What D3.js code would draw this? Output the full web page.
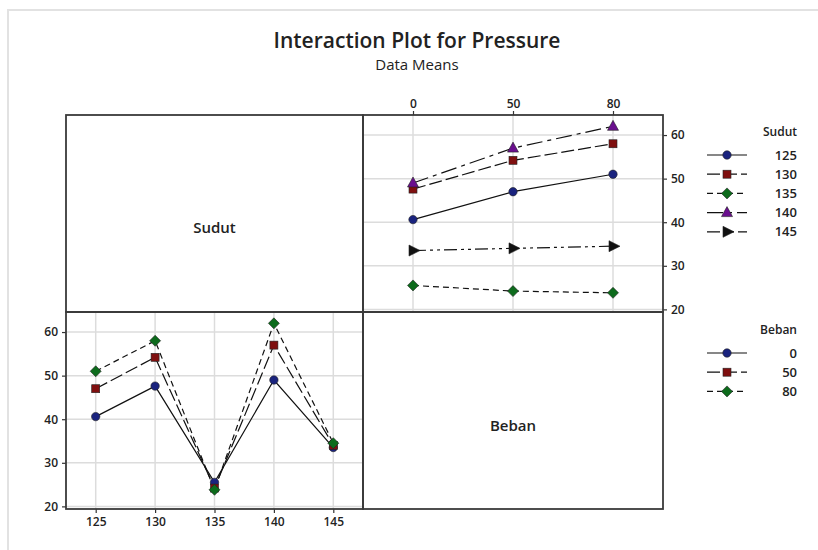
<!DOCTYPE html>
<html>
<head>
<meta charset="utf-8">
<script src="https://cdn.jsdelivr.net/npm/d3@7"></script>
<style>
  body { margin: 0; background: #fff; }
  text { font-family: "Open Sans", "Noto Sans", sans-serif; fill: #222; }
  .tick text { font-size: 12px; font-weight: 600; }
</style>
</head>
<body>
<svg id="chart" width="818" height="550"></svg>
<script>
// factor levels
const sudutLevels = [125, 130, 135, 140, 145];
const bebanLevels = [0, 50, 80];
const yTicks = [20, 30, 40, 50, 60];

// means for each Sudut level, across Beban 0, 50, 80
const sudut125 = [40.6, 47.0, 51.0];
const sudut130 = [47.6, 54.2, 58.0];
const sudut135 = [25.5, 24.2, 23.8];
const sudut140 = [49.0, 57.0, 62.0];
const sudut145 = [33.5, 34.0, 34.5];

const sudutSeries = [
  { name: "125", values: sudut125, shape: "circle", color: "#1a237e", dash: null },
  { name: "130", values: sudut130, shape: "square", color: "#7f0f0f", dash: "13,4" },
  { name: "135", values: sudut135, shape: "diamond", color: "#0d6b1c", dash: "6,4" },
  { name: "140", values: sudut140, shape: "triangle", color: "#6a0f8e", dash: "16,5,4,5" },
  { name: "145", values: sudut145, shape: "arrow", color: "#111", dash: "13,4,3,4,3,4" }
];

// same means, seen per Beban level across Sudut
const bebanSeries = bebanLevels.map((b, i) => ({
  name: String(b),
  values: sudutSeries.map(s => s.values[i]),
  shape: sudutSeries[i].shape,
  color: sudutSeries[i].color,
  dash: [null, "13,4", "6,4"][i]
}));

const svg = d3.select("#chart");

// outer frame of the screenshot
svg.append("path")
  .attr("d", "M8,552 L8,10 L820,10")
  .attr("fill", "none").attr("stroke", "#e2e2e2").attr("stroke-width", 2);

svg.append("text").attr("x", 417).attr("y", 48)
  .attr("text-anchor", "middle").style("font-size", "21px").style("font-weight", 600)
  .text("Interaction Plot for Pressure");
svg.append("text").attr("x", 417).attr("y", 70)
  .attr("text-anchor", "middle").style("font-size", "15px")
  .text("Data Means");

const pLeft = 66, midX = 363, pRight = 663;
const pTop = 115, midY = 312, pBottom = 509;

const yTop = d3.scaleLinear().domain([19.4, 64.6]).range([midY, pTop]);
const yBot = d3.scaleLinear().domain([19.4, 64.6]).range([pBottom, midY]);
const xBeban = d3.scalePoint().domain(bebanLevels).range([midX, pRight]).padding(0.5);
const xSudut = d3.scalePoint().domain(sudutLevels).range([pLeft, midX]).padding(0.5);

function marker(g, shape, color, x, y) {
  let el;
  if (shape === "circle") {
    el = g.append("circle").attr("cx", x).attr("cy", y).attr("r", 4.2);
  } else if (shape === "square") {
    el = g.append("rect").attr("x", x - 4).attr("y", y - 4).attr("width", 8).attr("height", 8);
  } else if (shape === "diamond") {
    el = g.append("path").attr("d", `M${x},${y - 5.5}L${x + 5.5},${y}L${x},${y + 5.5}L${x - 5.5},${y}Z`);
  } else if (shape === "triangle") {
    el = g.append("path").attr("d", `M${x},${y - 6}L${x + 5.5},${y + 4}L${x - 5.5},${y + 4}Z`);
  } else {
    el = g.append("path").attr("d", `M${x + 7},${y}L${x - 4},${y - 5.5}L${x - 4},${y + 5.5}Z`);
  }
  el.attr("fill", color).attr("stroke", "#222").attr("stroke-width", 0.6);
}

function grid(g, xs, ys, x0, x1, y0, y1) {
  g.selectAll(".gx").data(xs).enter().append("line")
    .attr("x1", d => d).attr("x2", d => d).attr("y1", y0).attr("y2", y1)
    .attr("stroke", "#dcdcdc").attr("stroke-width", 1.5);
  g.selectAll(".gy").data(ys).enter().append("line")
    .attr("x1", x0).attr("x2", x1).attr("y1", d => d).attr("y2", d => d)
    .attr("stroke", "#dcdcdc").attr("stroke-width", 1.5);
}

// top-right panel: Sudut lines across Beban
let p = svg.append("g");
grid(p, bebanLevels.map(xBeban), yTicks.map(yTop), midX, pRight, pTop, midY);
sudutSeries.forEach(s => {
  const line = d3.line().x((d, i) => xBeban(bebanLevels[i])).y(d => yTop(d));
  p.append("path").datum(s.values).attr("d", line)
    .attr("fill", "none").attr("stroke", "#111").attr("stroke-width", 1.2)
    .attr("stroke-dasharray", s.dash);
  s.values.forEach((v, i) => marker(p, s.shape, s.color, xBeban(bebanLevels[i]), yTop(v)));
});

// bottom-left panel: Beban lines across Sudut
p = svg.append("g");
grid(p, sudutLevels.map(xSudut), yTicks.map(yBot), pLeft, midX, midY, pBottom);
bebanSeries.forEach(s => {
  const line = d3.line().x((d, i) => xSudut(sudutLevels[i])).y(d => yBot(d));
  p.append("path").datum(s.values).attr("d", line)
    .attr("fill", "none").attr("stroke", "#111").attr("stroke-width", 1.2)
    .attr("stroke-dasharray", s.dash);
});
bebanSeries.forEach(s => {
  s.values.forEach((v, i) => marker(p, s.shape, s.color, xSudut(sudutLevels[i]), yBot(v)));
});

// axes
function styleAxis(g) {
  g.select(".domain").remove();
  g.selectAll(".tick line").attr("stroke", "#333").attr("stroke-width", 1.2);
}
svg.append("g").attr("transform", `translate(0,${pTop})`)
  .call(d3.axisTop(xBeban).tickSize(4).tickPadding(3)).call(styleAxis);
svg.append("g").attr("transform", `translate(${pRight},0)`)
  .call(d3.axisRight(yTop).tickValues(yTicks).tickSize(4).tickPadding(4)).call(styleAxis);
svg.append("g").attr("transform", `translate(0,${pBottom})`)
  .call(d3.axisBottom(xSudut).tickSize(4).tickPadding(4)).call(styleAxis);
svg.append("g").attr("transform", `translate(${pLeft},0)`)
  .call(d3.axisLeft(yBot).tickValues(yTicks).tickSize(4).tickPadding(4)).call(styleAxis);
svg.selectAll(".tick text").style("fill", "#222");

// panel borders
[[pLeft, pTop, midX - pLeft, midY - pTop], [midX, pTop, pRight - midX, midY - pTop],
 [pLeft, midY, midX - pLeft, pBottom - midY], [midX, midY, pRight - midX, pBottom - midY]]
  .forEach(r => svg.append("rect").attr("x", r[0]).attr("y", r[1]).attr("width", r[2]).attr("height", r[3])
    .attr("fill", "none").attr("stroke", "#3a3a3a").attr("stroke-width", 1.8));

svg.append("text").attr("x", (pLeft + midX) / 2).attr("y", 233).attr("text-anchor", "middle")
  .style("font-size", "15px").style("font-weight", 600).text("Sudut");
svg.append("text").attr("x", (midX + pRight) / 2).attr("y", 431).attr("text-anchor", "middle")
  .style("font-size", "15px").style("font-weight", 600).text("Beban");

// legends
function legend(title, series, y0) {
  const g = svg.append("g");
  g.append("text").attr("x", 797).attr("y", y0).attr("text-anchor", "end")
    .style("font-size", "12px").style("font-weight", 600).text(title);
  series.forEach((s, i) => {
    const y = y0 + 19 + i * 19.2;
    g.append("line").attr("x1", 707).attr("x2", 747).attr("y1", y).attr("y2", y)
      .attr("stroke", "#111").attr("stroke-width", 1.2).attr("stroke-dasharray", s.dash);
    marker(g, s.shape, s.color, 727, y);
    g.append("text").attr("x", 797).attr("y", y + 4.5).attr("text-anchor", "end")
      .style("font-size", "13px").style("font-weight", 600).text(s.name);
  });
}
legend("Sudut", sudutSeries, 136);
legend("Beban", bebanSeries, 334);
</script>
</body>
</html>
